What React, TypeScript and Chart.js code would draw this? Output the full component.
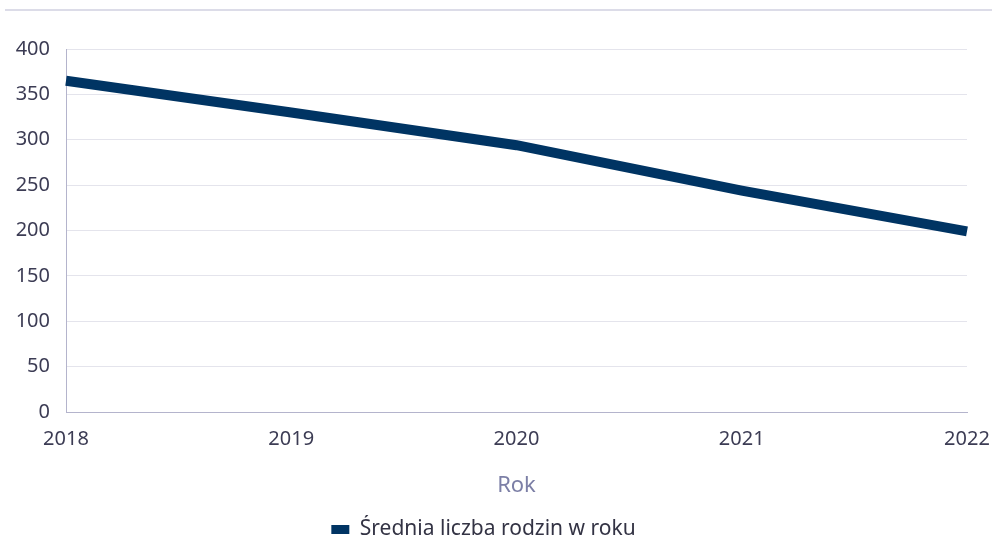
import React, { useEffect, useRef } from "react";
import { Chart, registerables } from "chart.js";

Chart.register(...registerables);

const years = ["2018", "2019", "2020", "2021", "2022"];
const families = [365, 330, 294, 244, 199];
const yTicks = [0, 50, 100, 150, 200, 250, 300, 350, 400];
const seriesLabel = "Średnia liczba rodzin w roku";
const axisTitle = "Rok";

export default function App() {
  const ref = useRef<HTMLCanvasElement | null>(null);

  useEffect(() => {
    document.body.style.margin = "0";
    if (!ref.current) return;
    const chart = new Chart(ref.current, {
      type: "line",
      data: {
        labels: years,
        datasets: [
          {
            label: seriesLabel,
            data: families,
            borderColor: "#003463",
            backgroundColor: "#003463",
            borderWidth: 10,
            pointRadius: 0,
            pointHoverRadius: 0,
            tension: 0,
            fill: false,
          },
        ],
      },
      options: {
        animation: false,
        responsive: false,
        layout: { padding: { left: 0, right: 25, top: 49, bottom: 0 } },
        scales: {
          x: {
            offset: false,
            afterFit: (s: any) => {
              s.paddingLeft = 0;
              s.paddingRight = 0;
              s.height = 103;
            },
            grid: { display: false, drawTicks: false },
            border: { display: true, color: "#b4b4cc", width: 1 },
            ticks: {
              color: "#3c3c54",
              font: { family: "Noto Sans", size: 20 },
              padding: 15,
              maxRotation: 0,
            },
            title: {
              display: true,
              text: axisTitle,
              color: "#7c7fa6",
              font: { family: "Noto Sans", size: 22 },
              padding: { top: 0, bottom: 16 },
            },
          },
          y: {
            min: 0,
            max: 400,
            afterBuildTicks: (s: any) => {
              s.ticks = yTicks.map((v) => ({ value: v }));
            },
            afterFit: (s: any) => {
              s.width = 66;
            },
            grid: { color: "#e4e4ec", drawTicks: false },
            border: { display: true, color: "#b4b4cc", width: 1 },
            ticks: {
              color: "#3c3c54",
              font: { family: "Noto Sans", size: 20 },
              padding: 16,
            },
          },
        },
        plugins: {
          legend: {
            position: "bottom",
            labels: {
              boxWidth: 18,
              boxHeight: 9,
              color: "#333344",
              font: { family: "Noto Sans", size: 21 },
              padding: 4,
              generateLabels: (c: any) => {
                const items = Chart.defaults.plugins.legend.labels.generateLabels(c);
                return items.map((it: any) => ({ ...it, lineWidth: 0 }));
              },
            },
          },
          tooltip: { enabled: false },
        },
      },
    });
    return () => chart.destroy();
  }, []);

  return (
    <div style={{ position: "relative", width: 992, height: 540, overflow: "hidden", background: "#fff" }}>
      <div
        style={{
          position: "absolute",
          left: 5,
          right: 0,
          top: 9,
          height: 0,
          borderTop: "1px solid #dcdce8",
          borderBottom: "1px solid #dcdce8",
        }}
      />
      <canvas ref={ref} width={992} height={550} style={{ display: "block" }} />
    </div>
  );
}
